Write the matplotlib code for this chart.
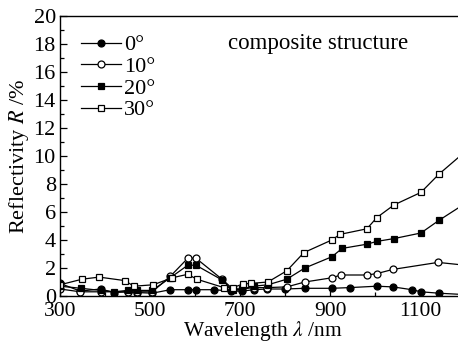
import matplotlib
matplotlib.use("Agg")
import matplotlib.pyplot as plt
from matplotlib.ticker import MultipleLocator

plt.rcParams['font.family'] = ['Liberation Serif', 'DejaVu Serif']
plt.rcParams['mathtext.fontset'] = 'stix'

# wavelengths (nm) and reflectivity (%) per incidence angle
wl_0 = [300, 345, 390, 420, 450, 470, 505, 545, 584, 602, 642, 680, 705, 730, 760, 800, 844, 904, 944, 1004, 1040, 1082, 1102, 1142, 1200]
r_0 = [0.9, 0.35, 0.5, 0.25, 0.3, 0.25, 0.2, 0.45, 0.45, 0.45, 0.45, 0.35, 0.35, 0.45, 0.5, 0.5, 0.55, 0.55, 0.6, 0.7, 0.65, 0.45, 0.3, 0.2, 0.1]

wl_10 = [300, 345, 390, 450, 470, 505, 545, 584, 602, 660, 684, 705, 730, 760, 804, 844, 904, 924, 982, 1004, 1040, 1140, 1200]
r_10 = [0.5, 0.3, 0.3, 0.3, 0.3, 0.3, 1.4, 2.7, 2.7, 1.2, 0.5, 0.5, 0.6, 0.6, 0.65, 1.0, 1.3, 1.5, 1.5, 1.6, 1.9, 2.4, 2.2]

wl_20 = [300, 347, 390, 420, 450, 470, 505, 545, 584, 602, 660, 684, 705, 730, 762, 804, 844, 904, 927, 982, 1004, 1042, 1102, 1142, 1200]
r_20 = [0.7, 0.55, 0.4, 0.3, 0.4, 0.4, 0.4, 1.3, 2.2, 2.2, 1.15, 0.4, 0.5, 0.7, 0.8, 1.2, 2.0, 2.8, 3.4, 3.7, 3.9, 4.1, 4.5, 5.4, 6.6]

wl_30 = [300, 349, 387, 444, 464, 507, 549, 584, 604, 664, 684, 706, 724, 762, 804, 842, 904, 922, 982, 1004, 1042, 1102, 1142, 1200]
r_30 = [0.8, 1.2, 1.35, 1.1, 0.7, 0.8, 1.3, 1.55, 1.2, 0.6, 0.6, 0.85, 0.9, 1.0, 1.8, 3.1, 4.0, 4.4, 4.8, 5.6, 6.5, 7.4, 8.7, 10.3]

labels = ['0°', '10°', '20°', '30°']

fig = plt.figure(figsize=(4.58, 3.42), dpi=100)
ax = fig.add_axes([60/458, 1-296/342, 405/458, 280/342])

series = [(wl_0, r_0, 'o', 'black'), (wl_10, r_10, 'o', 'white'),
          (wl_20, r_20, 's', 'black'), (wl_30, r_30, 's', 'white')]
for (x, y, m, fc), lab in zip(series, labels):
    ax.plot(x, y, color='black', lw=0.9, marker=m, markersize=5,
            markerfacecolor=fc, markeredgecolor='black', markeredgewidth=0.9,
            label=lab)

ax.set_xlim(300, 1200)
ax.set_ylim(0, 20)
ax.xaxis.set_minor_locator(MultipleLocator(100))
ax.yaxis.set_major_locator(MultipleLocator(2))
ax.yaxis.set_minor_locator(MultipleLocator(1))
ax.set_xticks([300, 500, 700, 900, 1100])
ax.tick_params(which='both', direction='in', top=False, right=False, labelsize=16)
ax.tick_params(axis='y', pad=3)
ax.tick_params(axis='x', pad=4, labelsize=15.5)
ax.tick_params(which='major', length=5, width=0.9)
ax.tick_params(which='minor', length=3, width=0.9)
for s in ax.spines.values():
    s.set_linewidth(1.0)
ax.spines['right'].set_visible(False)

ax.set_xlabel(r'Wavelength $\lambda$ /nm', fontsize=15.5, labelpad=-1)
ax.set_ylabel(r'Reflectivity $R$ /%', fontsize=16, labelpad=2)

leg = ax.legend(loc='upper left', bbox_to_anchor=(0.02, 0.98), frameon=False,
                fontsize=16, handlelength=1.8, handletextpad=0.1,
                labelspacing=0.05, borderaxespad=0.2)

ax.text(0.415, 0.9, 'composite structure', transform=ax.transAxes,
        fontsize=16.5, ha='left', va='center')

fig.savefig('out.png', dpi=100)
